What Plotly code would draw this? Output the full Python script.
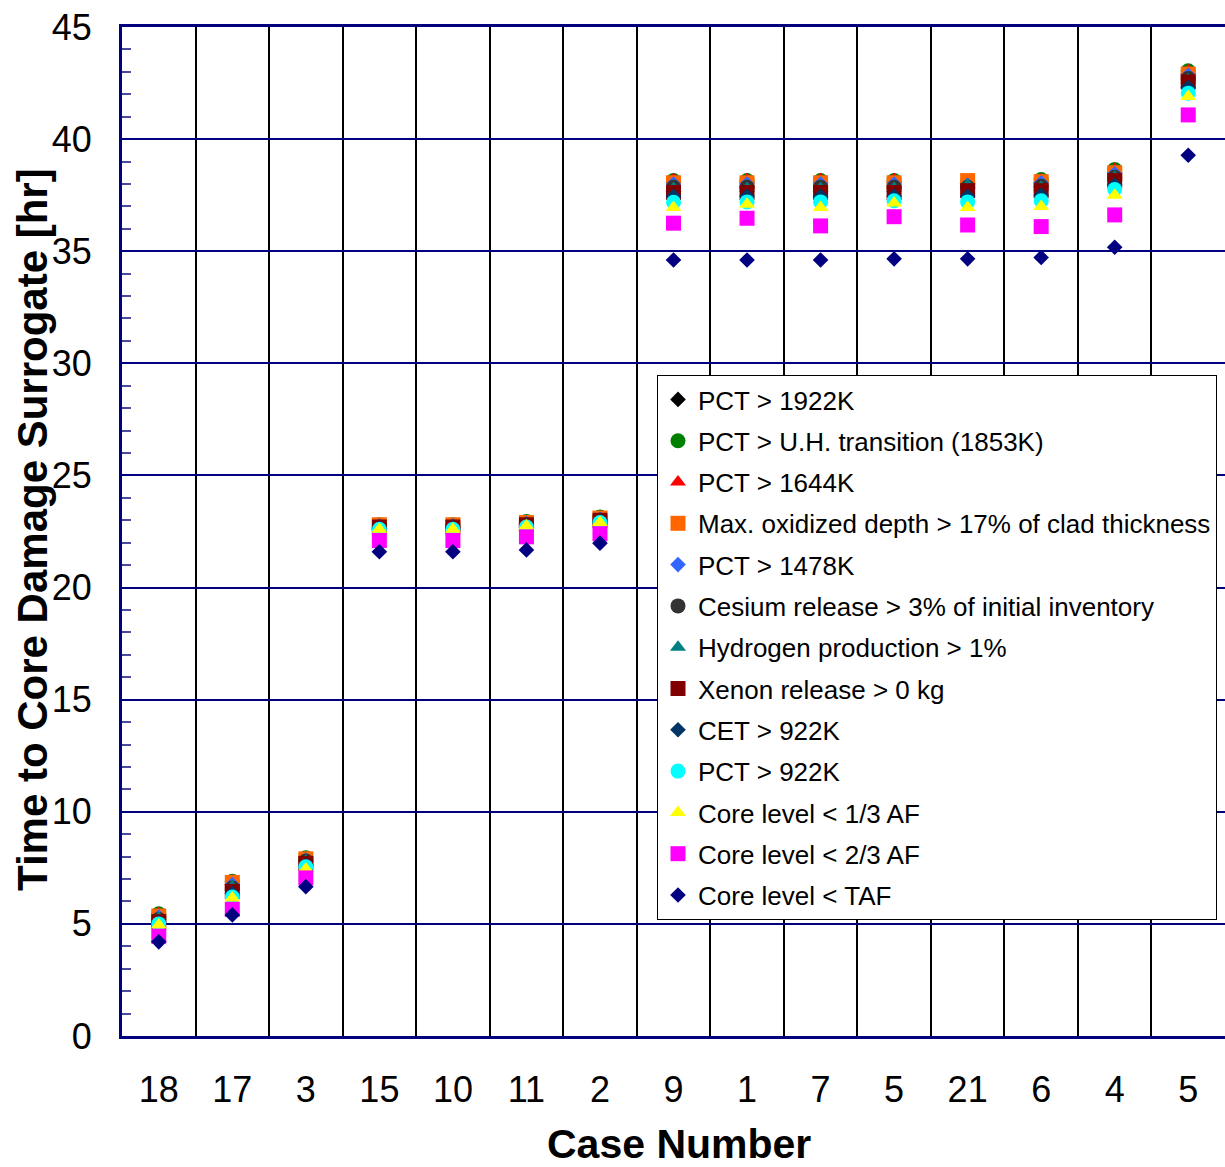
import plotly.graph_objects as go

cases = ["18", "17", "3", "15", "10", "11", "2", "9", "1", "7", "5", "21", "6", "4", "5"]

pct_1922 = [None] * 15
pct_uh = [5.45, 6.9, 7.95, 22.8, 22.8, 22.95, 23.15, 38.15, 38.15, 38.15, 38.15, 38.1, 38.2, 38.65, 43.05]
pct_1644 = [5.45, 6.9, 7.95, 22.8, 22.8, 22.95, 23.15, 38.2, 38.2, 38.2, 38.2, 38.15, 38.2, 38.65, 43.05]
oxid = [5.35, 6.85, 7.9, 22.8, 22.8, 22.9, 23.1, 38.05, 38.05, 38.05, 38.05, 38.15, 38.1, 38.5, 42.9]
pct_1478 = [5.3, 6.75, 7.85, 22.75, 22.75, 22.85, 23.05, 38.0, 38.0, 38.0, 38.0, 37.95, 38.05, 38.45, 42.85]
cesium = [5.2, 6.6, 7.8, 22.7, 22.7, 22.8, 23.0, 37.85, 37.85, 37.85, 37.85, 37.85, 37.9, 38.3, 42.7]
hydrogen = [5.25, 6.65, 7.8, 22.75, 22.75, 22.85, 23.05, 37.8, 37.8, 37.8, 37.8, 37.95, 37.85, 38.3, 42.65]
xenon = [5.1, 6.45, 7.7, 22.7, 22.7, 22.8, 23.0, 37.62, 37.62, 37.62, 37.62, 37.7, 37.7, 38.15, 42.55]
cet_922 = [5.05, 6.35, 7.6, 22.65, 22.65, 22.75, 22.95, 37.45, 37.45, 37.45, 37.45, 37.45, 37.5, 37.95, 42.3]
pct_922 = [5.0, 6.2, 7.55, 22.6, 22.6, 22.7, 22.9, 37.18, 37.2, 37.2, 37.25, 37.2, 37.25, 37.75, 42.05]
core_13 = [4.95, 6.15, 7.45, 22.6, 22.6, 22.75, 22.9, 36.95, 37.1, 36.95, 37.15, 36.95, 37.0, 37.5, 41.9]
core_23 = [4.45, 5.65, 7.05, 22.1, 22.1, 22.26, 22.4, 36.25, 36.47, 36.13, 36.54, 36.17, 36.1, 36.62, 41.08]
core_taf = [4.2, 5.4, 6.66, 21.6, 21.6, 21.68, 21.98, 34.61, 34.61, 34.61, 34.66, 34.66, 34.72, 35.18, 39.28]

series = [
    ("PCT > 1922K", pct_1922, "diamond", "#000000", 12),
    ("PCT > U.H. transition (1853K)", pct_uh, "circle", "#008000", 15),
    ("PCT > 1644K", pct_1644, "triangle-up", "#FF0000", 14),
    ("Max. oxidized depth > 17% of clad thickness", oxid, "square", "#FF6600", 15),
    ("PCT > 1478K", pct_1478, "diamond", "#3366FF", 12),
    ("Cesium release > 3% of initial inventory", cesium, "circle", "#333333", 15),
    ("Hydrogen production > 1%", hydrogen, "triangle-up", "#008080", 14),
    ("Xenon release > 0 kg", xenon, "square", "#800000", 15),
    ("CET > 922K", cet_922, "diamond", "#003366", 12),
    ("PCT > 922K", pct_922, "circle", "#00FFFF", 15),
    ("Core level < 1/3 AF", core_13, "triangle-up", "#FFFF00", 14),
    ("Core level < 2/3 AF", core_23, "square", "#FF00FF", 15),
    ("Core level < TAF", core_taf, "diamond", "#000080", 12),
]

xpos = list(range(len(cases)))
fig = go.Figure()
for i, (name, vals, sym, col, sz) in enumerate(series):
    fig.add_trace(go.Scatter(
        x=xpos, y=vals, mode="markers", name=name,
        legendgroup=f"g{i}",
        marker=dict(symbol=sym, color=col, size=sz, line=dict(width=0)),
    ))

W, H = 1225, 1167
L, T, B = 122, 27, H - 1036
PW, PH = W - L, H - T - B

def px_x(p):
    return (p - L) / PW

def px_y(p):
    return (H - B - p) / PH

font = "Liberation Sans, Arial, sans-serif"
fig.update_layout(
    width=W, height=H,
    margin=dict(l=L, r=0, t=T, b=B, autoexpand=False),
    paper_bgcolor="white", plot_bgcolor="white",
    font=dict(family=font, color="black"),
    showlegend=True,
    legend=dict(
        x=px_x(657), y=px_y(375), xanchor="left", yanchor="top",
        bgcolor="white", bordercolor="black", borderwidth=1,
        font=dict(size=26, family=font, color="black"),
        tracegroupgap=4.5, traceorder="grouped",
    ),
    xaxis=dict(
        range=[-0.5, 14.5], tickmode="array", tickvals=xpos, ticktext=cases,
        showgrid=False, zeroline=False,
        showline=True, linecolor="#000080", linewidth=3, mirror=True,
        ticks="", tickfont=dict(size=36, family=font, color="black"),
        ticklabelstandoff=20, ticklabeloverflow="allow",
        minor=dict(tick0=-0.5, dtick=1, showgrid=True, gridcolor="black", gridwidth=2, ticks=""),
    ),
    yaxis=dict(
        range=[0, 45], dtick=5, tick0=0,
        showgrid=True, gridcolor="#000080", gridwidth=1.5, zeroline=False,
        showline=True, linecolor="#000080", linewidth=3,
        ticks="inside", ticklen=9, tickcolor="#000080", tickwidth=2,
        tickfont=dict(size=36, family=font, color="black"),
        ticklabelstandoff=20, ticklabeloverflow="allow",
        minor=dict(dtick=1, ticks="inside", ticklen=9, tickcolor="#4a4aa0", tickwidth=2, showgrid=False),
    ),
    annotations=[
        dict(text="<b>Time to Core Damage Surrogate [hr]</b>", xref="paper", yref="paper",
             x=px_x(32), y=px_y(530), textangle=-90, showarrow=False,
             xanchor="center", yanchor="middle", font=dict(size=42, family=font, color="black")),
        dict(text="<b>Case Number</b>", xref="paper", yref="paper",
             x=px_x(679), y=px_y(1144), showarrow=False,
             xanchor="center", yanchor="middle", font=dict(size=41, family=font, color="black")),
    ],
)

fig.write_html(
    "out.html",
    config={"displayModeBar": False},
    post_script="document.body.style.margin='0';document.body.style.overflow='hidden';",
)
